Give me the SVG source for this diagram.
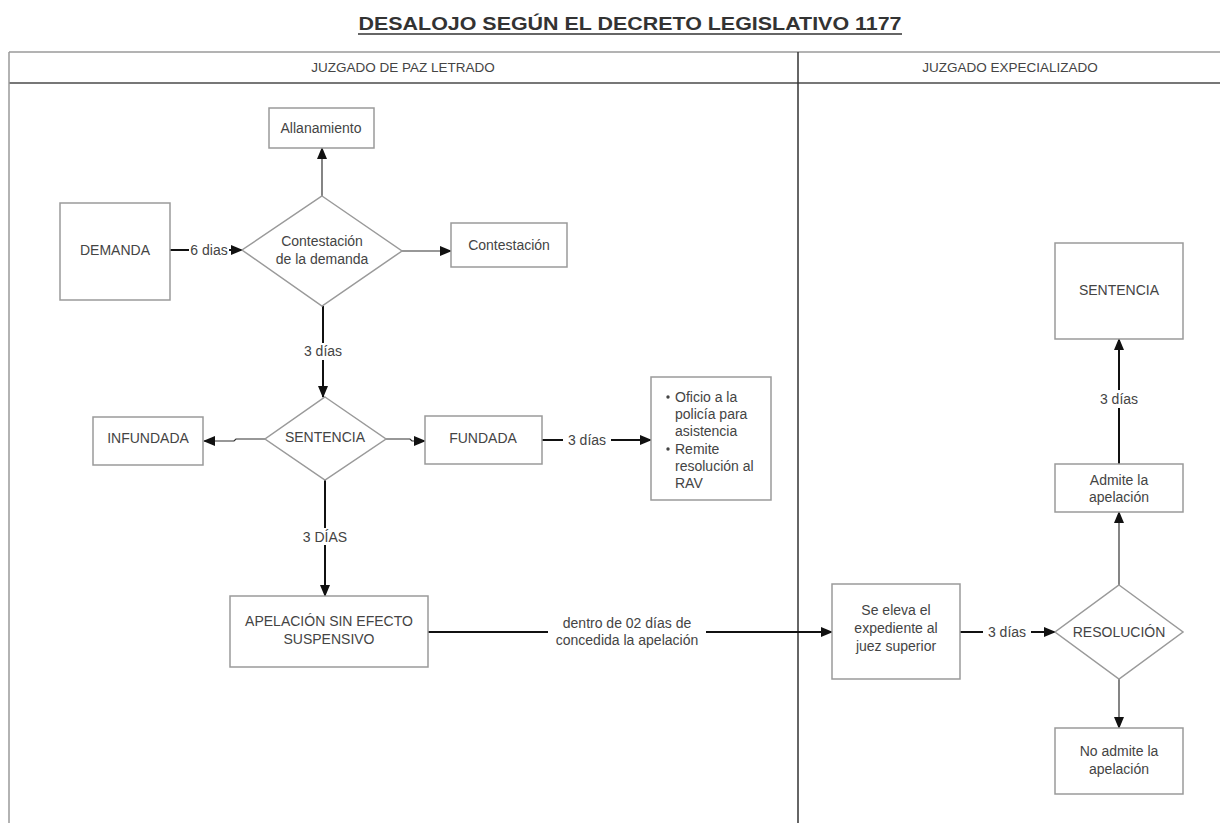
<svg xmlns="http://www.w3.org/2000/svg" width="1220" height="823" viewBox="0 0 1220 823">
  <style>
    .box { fill: #ffffff; stroke: #9a9a9a; stroke-width: 1.5; }
    .t { font-family: "Liberation Sans", Arial, sans-serif; font-size: 14px; fill: #444444; text-anchor: middle; }
    .tl { font-family: "Liberation Sans", Arial, sans-serif; font-size: 14px; fill: #444444; }
    .lbl { font-family: "Liberation Sans", Arial, sans-serif; font-size: 14px; fill: #444444; text-anchor: middle; }
    .hdr { font-family: "Liberation Sans", Arial, sans-serif; font-size: 13.5px; fill: #444444; text-anchor: middle; }
    .thick { fill: none; stroke: #111111; stroke-width: 2; marker-end: url(#arrow); }
    .thin { fill: none; stroke: #333333; stroke-width: 1.2; marker-end: url(#arrow); }
    .bg { fill: #ffffff; }
  </style>
  <defs>
    <marker id="arrow" markerUnits="userSpaceOnUse" markerWidth="12" markerHeight="10" refX="11" refY="5" orient="auto">
      <path d="M0,0 L12,5 L0,10 Z" fill="#111111"/>
    </marker>
  </defs>

  <rect width="1220" height="823" fill="#ffffff"/>

  <!-- title -->
  <g id="title">
    <text x="630" y="30" font-family="Liberation Sans, Arial, sans-serif" font-size="18" font-weight="bold" fill="#333333" text-anchor="middle" textLength="543" lengthAdjust="spacingAndGlyphs">DESALOJO SEGÚN EL DECRETO LEGISLATIVO 1177</text>
    <line x1="358" y1="34" x2="902" y2="34" stroke="#333333" stroke-width="1.5"/>
  </g>

  <!-- swimlane pool -->
  <g id="pool">
    <line x1="9" y1="52" x2="1220" y2="52" stroke="#9a9a9a" stroke-width="1.5"/>
    <line x1="9" y1="83" x2="1220" y2="83" stroke="#777777" stroke-width="2"/>
    <line x1="9" y1="52" x2="9" y2="823" stroke="#9a9a9a" stroke-width="1.5"/>
    <line x1="798" y1="52" x2="798" y2="823" stroke="#333333" stroke-width="1.5"/>
    <text class="hdr" x="403" y="72">JUZGADO DE PAZ LETRADO</text>
    <text class="hdr" x="1010" y="72">JUZGADO EXPECIALIZADO</text>
  </g>

  <!-- connectors -->
  <g id="connectors">
    <path class="thick" d="M170,250 L242,250"/>
    <rect class="bg" x="189" y="242" width="40" height="16"/>
    <text class="lbl" x="209" y="255">6 dias</text>

    <path class="thin" d="M402,251 L451,251"/>
    <path class="thin" d="M322,196 L322,148"/>

    <path class="thick" d="M323,306 L323,397"/>
    <rect class="bg" x="298" y="343" width="50" height="17"/>
    <text class="lbl" x="323" y="356">3 días</text>

    <path class="thin" d="M265,439 L236,439 L234,441 L204,441"/>
    <path class="thin" d="M386,439 L410,439 L412,441 L425,441"/>

    <path class="thick" d="M542,440 L651,440"/>
    <rect class="bg" x="563" y="431" width="48" height="17"/>
    <text class="lbl" x="587" y="445">3 días</text>

    <path class="thick" d="M325,480 L325,596"/>
    <rect class="bg" x="295" y="528" width="60" height="17"/>
    <text class="lbl" x="325" y="542">3 DÍAS</text>

    <path class="thick" d="M428,632 L832,632"/>
    <rect class="bg" x="548" y="613" width="158" height="35"/>
    <text class="lbl" x="627" y="628">dentro de 02 días de</text>
    <text class="lbl" x="627" y="645">concedida la apelación</text>

    <path class="thick" d="M960,632 L1055,632"/>
    <rect class="bg" x="983" y="624" width="48" height="17"/>
    <text class="lbl" x="1007" y="637">3 días</text>

    <path class="thin" d="M1119,679 L1119,728"/>
    <path class="thin" d="M1119,585 L1119,512"/>

    <path class="thick" d="M1119,464 L1119,339"/>
    <rect class="bg" x="1095" y="390" width="48" height="18"/>
    <text class="lbl" x="1119" y="404">3 días</text>
  </g>

  <!-- nodes -->
  <g id="demanda">
    <rect class="box" x="60" y="203" width="110" height="97"/>
    <text class="t" x="115" y="255">DEMANDA</text>
  </g>

  <g id="allanamiento">
    <rect class="box" x="269" y="108" width="105" height="40"/>
    <text class="t" x="321" y="133">Allanamiento</text>
  </g>

  <g id="contestacion-demanda">
    <polygon class="box" points="322,196 402,251 322,306 242,250"/>
    <text class="t" x="322" y="246">Contestación</text>
    <text class="t" x="322" y="264">de la demanda</text>
  </g>

  <g id="contestacion">
    <rect class="box" x="451" y="223" width="116" height="44"/>
    <text class="t" x="509" y="250">Contestación</text>
  </g>

  <g id="sentencia">
    <polygon class="box" points="325,397 386,439 325,480 265,439"/>
    <text class="t" x="325" y="442">SENTENCIA</text>
  </g>

  <g id="infundada">
    <rect class="box" x="93" y="417" width="110" height="48"/>
    <text class="t" x="148" y="443">INFUNDADA</text>
  </g>

  <g id="fundada">
    <rect class="box" x="425" y="416" width="117" height="48"/>
    <text class="t" x="483" y="443">FUNDADA</text>
  </g>

  <g id="acciones">
    <rect class="box" x="651" y="377" width="120" height="123"/>
    <circle cx="668" cy="397" r="1.7" fill="#444444"/>
    <text class="tl" x="675" y="402">Oficio a la</text>
    <text class="tl" x="675" y="419">policía para</text>
    <text class="tl" x="675" y="436">asistencia</text>
    <circle cx="668" cy="449" r="1.7" fill="#444444"/>
    <text class="tl" x="675" y="454">Remite</text>
    <text class="tl" x="675" y="471">resolución al</text>
    <text class="tl" x="675" y="488">RAV</text>
  </g>

  <g id="apelacion">
    <rect class="box" x="230" y="596" width="198" height="71"/>
    <text class="t" x="329" y="626">APELACIÓN SIN EFECTO</text>
    <text class="t" x="329" y="644">SUSPENSIVO</text>
  </g>

  <g id="eleva">
    <rect class="box" x="832" y="584" width="128" height="95"/>
    <text class="t" x="896" y="615">Se eleva el</text>
    <text class="t" x="896" y="633">expediente al</text>
    <text class="t" x="896" y="651">juez superior</text>
  </g>

  <g id="resolucion">
    <polygon class="box" points="1119,585 1183,632 1119,679 1055,632"/>
    <text class="t" x="1119" y="637">RESOLUCIÓN</text>
  </g>

  <g id="no-admite">
    <rect class="box" x="1055" y="728" width="128" height="66"/>
    <text class="t" x="1119" y="756">No admite la</text>
    <text class="t" x="1119" y="774">apelación</text>
  </g>

  <g id="admite">
    <rect class="box" x="1055" y="464" width="128" height="48"/>
    <text class="t" x="1119" y="485">Admite la</text>
    <text class="t" x="1119" y="502">apelación</text>
  </g>

  <g id="sentencia-final">
    <rect class="box" x="1055" y="243" width="128" height="96"/>
    <text class="t" x="1119" y="295">SENTENCIA</text>
  </g>
</svg>
